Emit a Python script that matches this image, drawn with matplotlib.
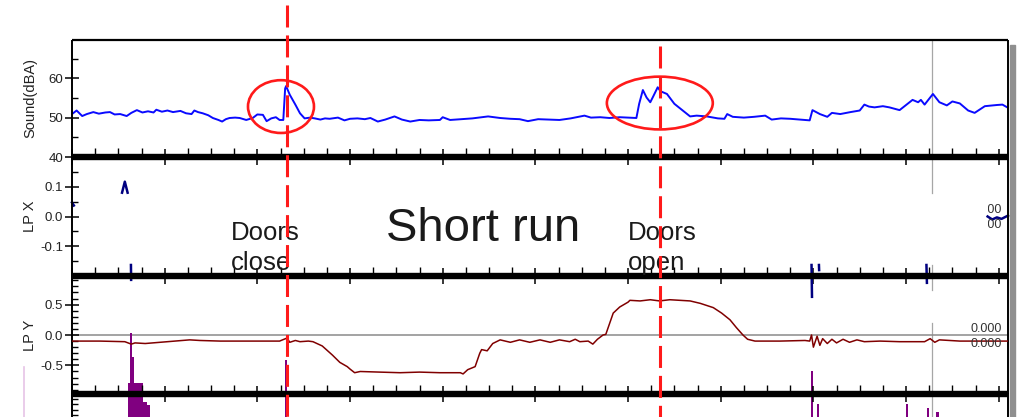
import numpy as np
import matplotlib
matplotlib.use('Agg')
import matplotlib.pyplot as plt
import matplotlib.transforms as mtransforms
from matplotlib.patches import Ellipse, Rectangle
from matplotlib.lines import Line2D
from matplotlib.ticker import MultipleLocator, FixedLocator
from matplotlib.transforms import Bbox

plt.rcParams['font.family'] = ['Liberation Sans', 'DejaVu Sans']
plt.rcParams['axes.unicode_minus'] = False

# time axis in seconds (major grid every 10 s)
sound_t = [0.0, 0.5, 1.1, 1.6, 2.3, 2.9, 3.6, 4.1, 4.6, 5.2,
           5.9, 6.4, 7.0, 7.6, 8.2, 8.8, 9.1, 9.7, 10.3, 10.9,
           11.7, 12.3, 12.9, 13.2, 13.6, 14.1, 14.7, 15.2, 15.8, 16.2,
           16.6, 17.0, 17.6, 18.1, 18.8, 19.5, 20.0, 20.6, 21.0, 21.5,
           22.0, 22.4, 22.8, 23.0, 23.1, 23.5, 24.1, 24.6, 25.1, 25.7,
           26.2, 26.8, 27.3, 27.8, 28.7, 29.4, 30.0, 30.8, 31.6, 32.2,
           33.0, 33.8, 34.8, 35.6, 36.5, 37.5, 38.5, 39.7, 40.0, 40.8,
           42.0, 43.2, 44.9, 46.2, 47.3, 48.3, 49.2, 50.3, 51.5, 52.6,
           53.8, 55.3, 56.0, 57.0, 58.0, 59.1, 60.0, 60.9, 61.2, 61.6,
           62.0, 62.4, 62.7, 63.2, 63.5, 64.2, 65.0, 65.9, 66.7, 67.4,
           68.5, 69.7, 70.4, 70.7, 71.3, 72.5, 73.6, 74.8, 75.5, 76.5,
           77.5, 78.6, 79.6, 79.9, 80.7, 81.5, 82.0, 82.9, 84.0, 85.0,
           85.5, 86.0, 86.6, 87.5, 88.2, 89.3, 90.0, 90.7, 91.3, 91.6,
           92.0, 92.9, 93.6, 94.4, 95.0, 95.8, 96.7, 97.4, 98.5, 99.8,
           100.4, 101.0]
sound_db = [50.9, 51.8, 50.4, 50.9, 51.4, 51.0, 51.3, 51.4, 50.8, 50.9,
            50.4, 51.2, 51.9, 51.3, 51.6, 51.3, 52.0, 51.5, 51.8, 51.4,
            51.7, 51.1, 50.9, 51.8, 51.4, 51.1, 50.6, 49.9, 49.4, 49.0,
            49.6, 49.9, 50.0, 49.9, 49.4, 49.9, 50.8, 50.7, 49.1, 49.8,
            50.1, 49.4, 49.4, 57.4, 58.0, 55.8, 53.3, 51.1, 49.8, 50.0,
            49.8, 49.5, 49.8, 49.7, 50.0, 49.3, 49.7, 49.8, 49.6, 49.9,
            49.0, 49.5, 50.3, 49.5, 49.0, 49.4, 49.3, 49.4, 50.1, 49.4,
            49.6, 49.8, 50.3, 49.9, 49.7, 49.6, 49.1, 49.6, 49.5, 49.4,
            49.8, 50.5, 50.0, 50.1, 49.9, 50.1, 50.0, 49.9, 53.5, 57.0,
            55.1, 53.9, 55.3, 57.7, 56.7, 56.0, 53.5, 51.8, 50.3, 50.5,
            50.3, 49.8, 49.7, 50.9, 50.2, 50.0, 50.2, 50.5, 49.5, 49.8,
            49.7, 49.5, 49.3, 51.9, 50.9, 50.2, 51.2, 50.9, 51.4, 51.8,
            53.3, 52.8, 52.6, 52.9, 52.6, 51.9, 53.2, 54.5, 53.9, 54.5,
            53.3, 56.0, 53.9, 53.1, 54.1, 53.6, 51.8, 51.2, 52.9, 53.2,
            53.3, 52.5]

nan = np.nan
# LP X is mostly off scale; only the in-range pieces are kept
lpx_t = [0.0, 0.2, nan, 5.4, 5.7, 6.0, nan, 6.36, 6.38, nan,
         79.8, 79.85, nan, 80.6, 80.62, nan, 92.2, 92.25, nan,
         98.8, 99.3, 99.8, 100.3, 101.0]
lpx_v = [0.047, 0.037, nan, 0.08, 0.117, 0.08, nan, -0.163, -0.213, nan,
         -0.163, -0.27, nan, -0.163, -0.18, nan, -0.163, -0.223, nan,
         0.0, -0.01, -0.003, -0.008, 0.003]

lpy_t = [0.0, 3.0, 5.7, 6.4, 6.8, 7.9, 9.5, 11.1, 12.7, 13.8,
         16.0, 19.2, 22.4, 23.2, 23.5, 24.1, 24.6, 25.5, 26.0, 27.0,
         28.1, 28.9, 29.7, 30.0, 30.5, 31.1, 33.2, 35.4, 37.5, 39.7,
         41.9, 42.2, 42.7, 43.5, 44.0, 44.2, 44.8, 45.4, 46.2, 47.3,
         48.3, 49.4, 50.5, 51.6, 52.6, 53.7, 54.3, 54.8, 55.7, 56.2,
         56.7, 57.3, 57.6, 58.4, 59.1, 60.0, 60.2, 61.3, 62.4, 63.4,
         64.5, 65.6, 66.7, 67.8, 69.2, 70.1, 71.0, 71.7, 72.4, 72.9,
         73.7, 76.4, 79.1, 79.6, 79.8, 80.0, 80.4, 80.7, 81.0, 81.5,
         82.0, 82.5, 83.2, 83.9, 84.7, 85.5, 87.2, 89.3, 92.0, 92.6,
         93.1, 93.6, 95.8, 101.0]
lpy_v = [-0.10, -0.10, -0.11, -0.15, -0.13, -0.14, -0.12, -0.10, -0.08, -0.09,
         -0.10, -0.10, -0.10, -0.05, -0.12, -0.09, -0.11, -0.10, -0.11, -0.18,
         -0.33, -0.45, -0.52, -0.56, -0.62, -0.60, -0.61, -0.62, -0.61, -0.62,
         -0.62, -0.64, -0.57, -0.52, -0.30, -0.24, -0.26, -0.14, -0.08, -0.12,
         -0.08, -0.12, -0.08, -0.12, -0.08, -0.11, -0.07, -0.11, -0.10, -0.15,
         -0.07, 0.00, 0.01, 0.36, 0.46, 0.54, 0.57, 0.56, 0.58, 0.56,
         0.58, 0.57, 0.56, 0.52, 0.45, 0.36, 0.25, 0.12, 0.00, -0.07,
         -0.10, -0.10, -0.09, -0.10, 0.00, -0.20, -0.02, -0.17, -0.06, -0.14,
         -0.07, -0.13, -0.07, -0.12, -0.08, -0.11, -0.10, -0.11, -0.11, -0.06,
         -0.12, -0.08, -0.10, -0.10]

# event bars (purple), tops in LP Y units
bar_t = [6.85, 6.36, 6.58, 7.9, 8.25, 23.1, 79.8, 80.5, 90.1, 92.4, 93.4]
bar_w = [1.6, 0.15, 0.15, 0.45, 0.3, 0.2, 0.22, 0.22, 0.3, 0.25, 0.25]
bar_top = [-0.79, 0.03, -0.36, -1.10, -1.15, -0.41, -0.59, -1.13, -1.13, -1.20, -1.26]

door_close_t = 23.2
door_open_t = 63.4
cursor_t = 92.8

W, H = 1025, 417


def fx(px):
    return px / W


def fy(py):
    return 1 - py / H


fig = plt.figure(figsize=(W / 100, H / 100), dpi=100)
L, AW = fx(72), 936 / W
ax1 = fig.add_axes([L, fy(157), AW, 117 / H])
ax2 = fig.add_axes([L, fy(276), AW, 119 / H])
ax3 = fig.add_axes([L, fy(394), AW, 118 / H])
ax4 = fig.add_axes([L, fy(394) - 0.25, AW, 0.25])


def style(ax, top=False):
    ax.set_facecolor('none')
    ax.set_xlim(0, 101)
    for s in ('left', 'right'):
        ax.spines[s].set_linewidth(1.4)
    ax.spines['bottom'].set_linewidth(4.6)
    ax.spines['top'].set_visible(top)
    ax.spines['top'].set_linewidth(1.6)
    for sp in ax.spines.values():
        sp.set_capstyle('butt')
    ax.xaxis.set_major_locator(MultipleLocator(10))
    ax.xaxis.set_minor_locator(MultipleLocator(2.5))
    ax.tick_params(axis='x', which='major', direction='inout', length=11,
                   width=1.1, labelbottom=False)
    ax.tick_params(axis='x', which='minor', direction='in', length=6.5, width=1.0)
    ax.tick_params(axis='y', which='major', direction='inout', length=10,
                   width=1.1, labelsize=9.5, pad=1.5, labelcolor='#222222')
    ax.tick_params(axis='y', which='minor', direction='in', length=4.5, width=1.0)


for a in (ax1, ax2, ax3):
    style(a, top=(a is ax1))

# sound level
ax1.plot(sound_t, sound_db, color='#0a0aff', lw=1.4)
ax1.set_ylim(40, 69.7)
ax1.yaxis.set_major_locator(FixedLocator([40, 50, 60]))
ax1.yaxis.set_minor_locator(FixedLocator([45, 55, 65]))
ax1.set_ylabel('Sound(dBA)', fontsize=10.5, color='#222222')
ax1.yaxis.set_label_coords(-0.0374, 0.5)
ax1.add_patch(Ellipse((22.55, 52.8), 7.12, 13.4, fill=False, ec='#ff1a1a',
                      lw=1.9, clip_on=False, zorder=5))
ax1.add_patch(Ellipse((63.43, 53.7), 11.43, 13.4, fill=False, ec='#ff1a1a',
                      lw=1.9, clip_on=False, zorder=5))

# LP X
ax2.plot(lpx_t, lpx_v, color='#000080', lw=1.8, clip_on=False)
ax2.set_ylim(-0.2, 0.2)
ax2.yaxis.set_major_locator(FixedLocator([-0.1, 0.0, 0.1]))
ax2.yaxis.set_major_formatter(lambda v, p: f'{v:.1f}')
ax2.yaxis.set_minor_locator(FixedLocator([-0.15, -0.05, 0.05, 0.15]))
ax2.set_ylabel('LP X', fontsize=10.5, color='#222222')
ax2.yaxis.set_label_coords(-0.0374, 0.5)

# LP Y
ax3.axhline(0, color='#8a8a8a', lw=1.1, zorder=1)
ax3.bar(bar_t, np.array(bar_top) + 3, bottom=-3, width=bar_w,
        color='#800080', clip_on=False, zorder=1)
ax3.plot(lpy_t, lpy_v, color='#800000', lw=1.1, zorder=3)
ax3.set_ylim(-0.97, 0.97)
ax3.yaxis.set_major_locator(FixedLocator([-0.5, 0.0, 0.5]))
ax3.yaxis.set_major_formatter(lambda v, p: f'{v:.1f}')
ax3.yaxis.set_minor_locator(MultipleLocator(0.1))
ax3.set_ylabel('LP Y', fontsize=10.5, color='#222222')
ax3.yaxis.set_label_coords(-0.0374, 0.5)

# lower panel, only its upper edge is on the page
ax4.set_facecolor('none')
ax4.set_xlim(0, 101)
ax4.set_ylim(0, 1)
for s in ('top', 'bottom'):
    ax4.spines[s].set_visible(False)
ax4.spines['left'].set_linewidth(1.4)
ax4.spines['right'].set_linewidth(1.4)
ax4.set_xticks([])
ax4.yaxis.set_major_locator(FixedLocator([]))
ax4.yaxis.set_minor_locator(MultipleLocator(0.05))
ax4.tick_params(axis='y', which='minor', direction='in', length=4.5, width=1.0)

# value read-outs at the right edge
for yb in (332, 347):
    fig.text(fx(1002), fy(yb), '0.000', ha='right', va='baseline',
             fontsize=9, color='#333333')
clip = Bbox([[988, 0], [1008, H]])
for yb in (213, 228):
    t = fig.text(fx(1002), fy(yb), '0.000', ha='right', va='baseline',
                 fontsize=9, color='#333333')
    t.set_clip_box(clip)
    t.set_clip_on(True)

# annotations
txt = dict(color='#1a1a1a', ha='left', va='baseline')
fig.text(fx(231), fy(240), 'Doors', fontsize=18.5, **txt)
fig.text(fx(231), fy(270), 'close', fontsize=18.5, **txt)
fig.text(fx(628), fy(240), 'Doors', fontsize=18.5, **txt)
fig.text(fx(628), fy(270), 'open', fontsize=18.5, **txt)
fig.text(fx(386), fy(241), 'Short run', fontsize=34, **txt)

trans = mtransforms.blended_transform_factory(ax1.transData, fig.transFigure)

# cursor line
for y0, y1 in ((40, 193), (265, 290), (323, 417)):
    fig.add_artist(Line2D([cursor_t, cursor_t], [fy(y0), fy(y1)], transform=trans,
                          color='#a6a6a6', lw=0.9, zorder=-1))

# door events
fig.add_artist(Line2D([door_close_t, door_close_t], [fy(5), 0], transform=trans,
                      color='#ff1a1a', lw=2.2, dashes=(7.2, 2.6), zorder=6))
fig.add_artist(Line2D([door_open_t, door_open_t], [fy(46), 0], transform=trans,
                      color='#ff1a1a', lw=2.2, dashes=(7.2, 2.6), zorder=6))

# frame shadow and stray legend mark
fig.add_artist(Rectangle((fx(1010), 0), fx(5), fy(45), transform=fig.transFigure,
                         color='#8f8f8f', zorder=-2))
fig.add_artist(Line2D([fx(24), fx(24)], [fy(367), 0], transform=fig.transFigure,
                      color='#e6c3e6', lw=1.2))

fig.savefig('out.png', dpi=100)
